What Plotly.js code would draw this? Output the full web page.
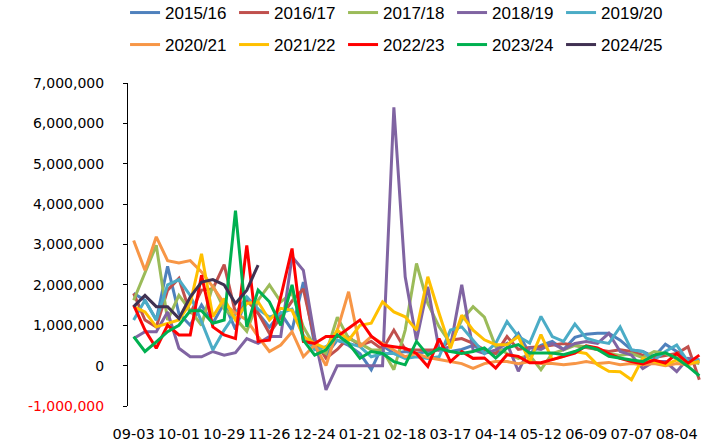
<!DOCTYPE html>
<html>
<head>
<meta charset="utf-8">
<script src="https://cdn.plot.ly/plotly-3.0.1.min.js"></script>
<style>
  html, body { margin: 0; padding: 0; background: #fff; }
  #chart { width: 727px; height: 446px; }
</style>
</head>
<body>
<div id="chart"></div>
<script>
// semaines (categories)
var weeks = ['09-03','09-10','09-17','09-24','10-01','10-08','10-15','10-22','10-29','11-05',
             '11-12','11-19','11-26','12-03','12-10','12-17','12-24','12-31','01-07','01-14',
             '01-21','01-28','02-04','02-11','02-18','02-25','03-03','03-10','03-17','03-24',
             '03-31','04-07','04-14','04-21','04-28','05-05','05-12','05-19','05-26','06-02',
             '06-09','06-16','06-23','06-30','07-07','07-14','07-21','07-28','08-04','08-11',
             '08-18'];
// labels shown on the x axis
var weekLabels = ['09-03','10-01','10-29','11-26','12-24','01-21','02-18','03-17','04-14',
                  '05-12','06-09','07-07','08-04'];
var yTicks = [-1000000, 0, 1000000, 2000000, 3000000, 4000000, 5000000, 6000000, 7000000];

// values in millions
var s1516 = [1.79,1.62,1.13,2.46,1.29,1.0,1.5,1.05,1.55,0.9,1.7,1.3,0.95,1.3,0.88,2.07,0.5,0.26,0.63,0.5,
             0.3,-0.1,0.5,0.3,0.35,0.3,0.35,0.4,0.35,0.4,0.5,0.35,0.3,0.45,0.8,0.3,0.5,0.6,0.4,0.7,
             0.78,0.8,0.8,0.63,0.39,0.35,0.22,0.53,0.35,0.1,0.14];
var s1617 = [1.79,1.13,0.96,1.87,2.16,1.29,1.87,1.9,2.5,1.3,1.62,1.3,0.8,1.2,1.6,1.9,0.63,0.18,0.4,0.7,
             0.5,0.6,0.4,0.88,0.4,0.39,0.39,0.39,0.63,0.67,0.55,0.39,0.3,0.72,0.4,0.45,0.47,0.51,0.55,0.5,
             0.45,0.4,0.35,0.39,0.35,0.26,0.2,0.25,0.3,0.47,-0.35];
var s1718 = [1.62,2.28,2.98,1.13,1.74,1.37,1.0,1.99,1.4,1.17,0.85,1.62,2.0,1.58,1.8,0.96,0.47,0.3,1.2,0.67,
             0.55,0.39,0.39,-0.1,0.88,2.53,1.54,0.96,0.55,1.13,1.46,1.2,0.47,0.3,0.18,0.26,-0.1,0.3,0.39,0.5,
             0.47,0.4,0.3,0.25,0.3,0.2,0.35,0.3,0.2,0.1,0.05];
var s1819 = [0.67,0.84,0.84,1.33,0.43,0.22,0.22,0.35,0.26,0.32,0.67,0.55,0.72,0.72,2.7,2.36,0.7,-0.6,0.0,0.0,
             0.0,0.0,0.0,6.4,2.2,0.63,1.95,0.39,0.47,2.0,0.39,0.3,0.39,0.55,-0.14,0.44,0.4,0.55,0.4,0.55,
             0.6,0.55,0.8,0.35,0.26,-0.07,0.1,0.1,-0.15,0.18,0.14];
var s1920 = [1.13,1.62,1.13,2.0,2.13,1.74,1.09,0.39,0.88,1.29,1.7,1.4,1.2,1.3,1.4,0.75,0.39,0.47,0.63,0.55,
             0.47,0.22,0.3,0.3,0.18,0.22,0.18,0.22,0.88,0.96,0.63,0.3,0.55,1.09,0.72,0.56,1.22,0.72,0.6,1.03,
             0.68,0.6,0.55,0.96,0.39,0.35,0.14,0.35,0.51,0.1,0.14];
var s2021 = [3.1,2.36,3.19,2.6,2.54,2.6,2.32,1.95,1.54,1.3,1.13,0.72,0.35,0.51,0.84,0.22,0.51,0.0,0.88,1.83,
             0.47,0.72,0.55,0.39,0.22,0.3,0.2,0.15,0.1,0.05,-0.07,0.05,0.1,0.1,0.05,0.1,0.05,0.05,0.02,0.05,
             0.1,0.05,0.08,0.02,0.05,0.02,0.05,0.0,0.05,0.02,0.1];
var s2122 = [1.46,1.33,0.96,1.05,1.13,1.54,2.77,1.21,1.66,1.13,1.54,1.58,1.13,1.42,1.37,0.72,0.55,0.43,0.88,0.63,
             1.0,1.05,1.58,1.33,1.21,0.88,2.2,1.29,0.43,1.25,0.88,0.64,0.52,0.52,0.72,0.1,0.77,0.15,0.23,0.35,
             0.3,0.02,-0.14,-0.15,-0.35,0.18,0.1,0.02,0.14,0.05,0.1];
var s2223 = [1.5,0.88,0.43,1.0,0.76,0.76,2.24,0.96,0.76,0.67,2.98,0.6,0.63,1.7,2.9,0.6,0.55,0.72,0.72,0.92,
             1.13,0.73,0.51,0.47,0.43,0.3,-0.02,0.67,0.1,0.35,0.18,0.19,-0.06,0.27,0.23,0.07,0.07,0.15,0.23,0.31,
             0.49,0.44,0.3,0.18,0.1,0.04,0.14,0.06,0.3,0.06,0.26];
var s2324 = [0.72,0.35,0.59,0.84,1.0,1.36,1.36,1.05,1.13,3.84,0.96,1.87,1.58,1.0,2.0,0.63,0.26,0.39,0.76,0.55,
             0.18,0.35,0.3,0.1,0.02,0.6,0.26,0.43,0.35,0.3,0.35,0.44,0.19,0.44,0.52,0.31,0.31,0.31,0.27,0.35,
             0.48,0.4,0.23,0.18,0.14,0.1,0.26,0.32,0.18,-0.02,-0.25];
var s2425 = [1.46,1.74,1.46,1.46,1.17,1.7,2.07,2.13,2.0,1.54,1.87,2.49];

var seasons = ['2015/16','2016/17','2017/18','2018/19','2019/20',
               '2020/21','2021/22','2022/23','2023/24','2024/25'];
var values = [s1516, s1617, s1718, s1819, s1920, s2021, s2122, s2223, s2324, s2425];
var colors = ['#4F81BD','#C0504D','#9BBB59','#8064A2','#4BACC6',
              '#F79646','#FFC000','#FF0000','#00B050','#403152'];

var data = [];
for (var k = 0; k < seasons.length; k++) {
    data.push({
        x: weeks.slice(0, values[k].length),
        y: values[k].map(function (v) { return v * 1000000; }),
        type: 'scatter',
        mode: 'lines',
        name: seasons[k],
        legend: k < 5 ? 'legend' : 'legend2',
        line: { color: colors[k], width: 3 },
        hoverinfo: 'skip'
    });
}

// tick text, red for the negative one
var yText = yTicks.map(function (v) {
    var s = Math.abs(v).toLocaleString('en-US');
    return v < 0 ? '<span style="color:#FF0000">-' + s + '</span>' : s;
});

var legendFont = { family: 'Liberation Sans, Arial, sans-serif', size: 17, color: '#000' };

var layout = {
    width: 727,
    height: 446,
    margin: { l: 128, r: 22, t: 83, b: 40 },
    paper_bgcolor: '#fff',
    plot_bgcolor: 'rgba(0,0,0,0)',
    showlegend: true,
    legend: {
        orientation: 'h', xref: 'container', yref: 'container',
        x: 0.172, y: 1 - 13 / 446, xanchor: 'left', yanchor: 'middle',
        entrywidth: 64, font: legendFont, bgcolor: 'rgba(0,0,0,0)'
    },
    legend2: {
        orientation: 'h', xref: 'container', yref: 'container',
        x: 0.172, y: 1 - 45 / 446, xanchor: 'left', yanchor: 'middle',
        entrywidth: 64, font: legendFont, bgcolor: 'rgba(0,0,0,0)'
    },
    xaxis: {
        type: 'category',
        range: [-0.5, weeks.length - 0.5],
        tickmode: 'array',
        tickvals: weekLabels,
        ticktext: weekLabels,
        tickangle: 0,
        ticks: '',
        showline: false,
        showgrid: false,
        zeroline: false,
        ticklabelstandoff: 17,
        tickfont: { family: 'DejaVu Sans, sans-serif', size: 14.5, color: '#000' }
    },
    // axe horizontal au niveau 0 avec les petites graduations
    xaxis2: {
        overlaying: 'x',
        anchor: 'free',
        position: 0.125,
        type: 'linear',
        range: [-0.5, weeks.length - 0.5],
        tickmode: 'linear',
        tick0: -0.5,
        dtick: 1,
        ticks: 'inside',
        ticklen: 5,
        tickcolor: '#000',
        showticklabels: false,
        showline: true,
        linecolor: '#000',
        linewidth: 1,
        showgrid: false,
        zeroline: false
    },
    yaxis: {
        range: [yTicks[0], yTicks[yTicks.length - 1]],
        tickmode: 'array',
        tickvals: yTicks,
        ticktext: yText,
        ticks: 'outside',
        ticklen: 4,
        tickcolor: '#000',
        showline: true,
        linecolor: '#000',
        linewidth: 1,
        showgrid: false,
        zeroline: false,
        ticklabelstandoff: 16,
        tickfont: { family: 'DejaVu Sans, sans-serif', size: 14, color: '#000' }
    }
};

Plotly.newPlot('chart', data, layout, { staticPlot: true, displayModeBar: false });
</script>
</body>
</html>
